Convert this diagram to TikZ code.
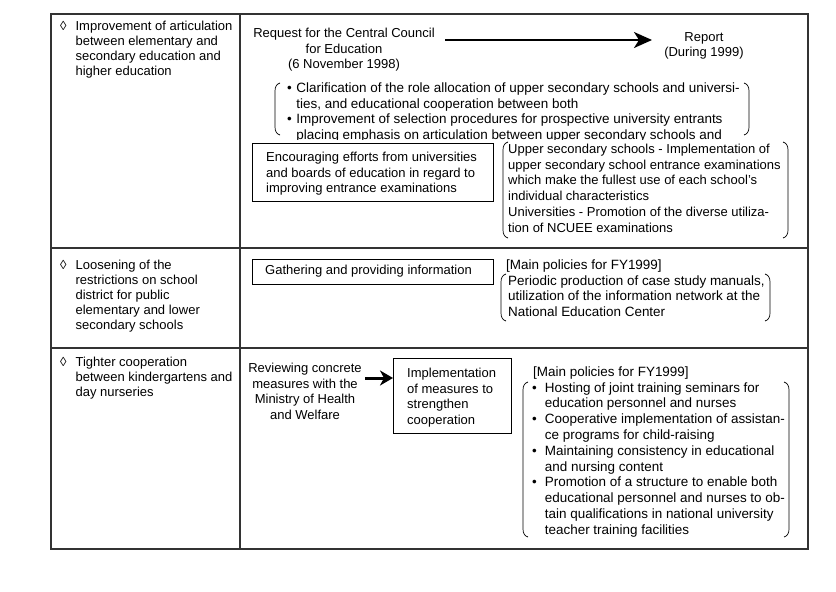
\documentclass[tikz,border=0pt]{standalone}
\usepackage{fontspec}
\setmainfont{Liberation Sans}
\usetikzlibrary{arrows.meta}
\newcommand\ftm{\fontsize{13}{15.8}\selectfont}
\newcommand\ftw{\fontsize{13.45}{15.8}\selectfont}
\newcommand\ftl{\fontsize{13}{15}\selectfont}
\newcommand\txtL[1]{\begin{tabular}{@{}l@{}}#1\end{tabular}}
\newcommand\txtC[1]{\begin{tabular}{@{}c@{}}#1\end{tabular}}
\newcommand\txtD[1]{\begin{tabular}{@{}l@{\hspace{9pt}}l@{}}#1\end{tabular}}
\newcommand\lparen[3]{\draw[brk] (#1+5,#2) .. controls (#1+1.5,#2+1) and (#1,#2+4) .. (#1,#2+8) -- (#1,#3-8) .. controls (#1,#3-4) and (#1+1.5,#3-1) .. (#1+5,#3);}
\newcommand\rparen[3]{\draw[brk] (#1-5,#2) .. controls (#1-1.5,#2+1) and (#1,#2+4) .. (#1,#2+8) -- (#1,#3-8) .. controls (#1,#3-4) and (#1-1.5,#3-1) .. (#1-5,#3);}
\begin{document}
\begin{tikzpicture}[x=1pt,y=-1pt,
  tx/.style={inner sep=0pt, anchor=north west, font=\ftm},
  txw/.style={inner sep=0pt, anchor=north west, font=\ftw},
  txc/.style={inner sep=0pt, anchor=north, font=\ftm},
  txl/.style={inner sep=0pt, anchor=north west, font=\ftl},
  grid/.style={line width=1.1pt, draw=black!80},
  boxx/.style={draw, line width=1pt, inner sep=0pt, anchor=north west},
  brk/.style={line width=0.7pt},
  bigarr/.style={line width=2pt, -{Stealth[length=18pt,width=16pt,inset=5pt]}},
  smarr/.style={line width=3pt, -{Stealth[length=13pt,width=15pt,inset=4pt]}}]
\useasboundingbox (0,0) rectangle (836,592);
% table
\draw[grid] (51,14) rectangle (808,549);
\draw[grid] (240,14) -- (240,549);
\draw[grid] (51,248) -- (808,248);
\draw[grid] (51,348) -- (808,348);
% ---------------- row 1
\node[txl] (l1) at (60,19.5) {\txtD{◊&Improvement of articulation\\&between elementary and\\&secondary education and\\&higher education}};
\node[txc] (req) at (344,26) {\txtC{Request for the Central Council\\for Education\\(6 November 1998)}};
\node[txc, font=\ftl] (rep) at (704,31) {\txtC{Report\\(During 1999)}};
\coordinate (a1s) at (445,40);
\coordinate (a1e) at (652,40);
\draw[bigarr] (a1s) -- (a1e);
\begin{scope}
\clip (270,78) rectangle (760,139);
\node[txw] (b1) at (287,81) {\begin{tabular}{@{}l@{\hspace{4.5pt}}l@{}}•&Clarification of the role allocation of upper secondary schools and universi-\\&ties, and educational cooperation between both\\•&Improvement of selection procedures for prospective university entrants\\&placing emphasis on articulation between upper secondary schools and\end{tabular}};
\end{scope}
\lparen{275}{83}{135}
\rparen{749}{83}{135}
\node[boxx, minimum width=241pt, minimum height=58pt] (enc) at (252,143) {};
\node[tx] (enct) at (266,150) {\txtL{Encouraging efforts from universities\\and boards of education in regard to\\improving entrance examinations}};
\node[tx] (b2) at (508,142) {\txtL{Upper secondary schools - Implementation of\\upper secondary school entrance examinations\\which make the fullest use of each school's\\individual characteristics\\Universities - Promotion of the diverse utiliza-\\tion of NCUEE examinations}};
\lparen{503}{142}{238}
\rparen{788}{142}{238}
% ---------------- row 2
\node[txl] (l2) at (60,258.5) {\txtD{◊&Loosening of the\\&restrictions on school\\&district for public\\&elementary and lower\\&secondary schools}};
\node[boxx, minimum width=241pt, minimum height=25pt] (gat) at (252,259) {};
\node[tx] (gatt) at (265,265) {Gathering and providing information};
\node[txw] (m2) at (506,258) {\txtL{[Main policies for FY1999]\\\hspace{2pt}Periodic production of case study manuals,\\\hspace{2pt}utilization of the information network at the\\\hspace{2pt}National Education Center}};
\lparen{501}{274}{321}
\rparen{770}{274}{321}
% ---------------- row 3
\node[txl] (l3) at (60,355.5) {\txtD{◊&Tighter cooperation\\&between kindergartens and\\&day nurseries}};
\node[txc] (rev) at (305,361) {\txtC{Reviewing concrete\\measures with the\\Ministry of Health\\and Welfare}};
\node[boxx, minimum width=118pt, minimum height=75pt] (impl) at (393,358) {};
\node[tx] (implt) at (407,366) {\txtL{Implementation\\of measures to\\strengthen\\cooperation}};
\coordinate (a2s) at (365,378);
\draw[smarr] (a2s) -- (impl.west |- a2s);
\node[txw] (m3) at (532,365) {\begin{tabular}{@{}l@{\hspace{8pt}}l@{}}\multicolumn{2}{@{}l@{}}{\hspace{1pt}[Main policies for FY1999]}\\
•&Hosting of joint training seminars for\\
&education personnel and nurses\\
•&Cooperative implementation of assistan-\\
&ce programs for child-raising\\
•&Maintaining consistency in educational\\
&and nursing content\\
•&Promotion of a structure to enable both\\
&educational personnel and nurses to ob-\\
&tain qualifications in national university\\
&teacher training facilities\end{tabular}};
\lparen{523}{382}{537}
\rparen{789}{382}{537}
\end{tikzpicture}
\end{document}
